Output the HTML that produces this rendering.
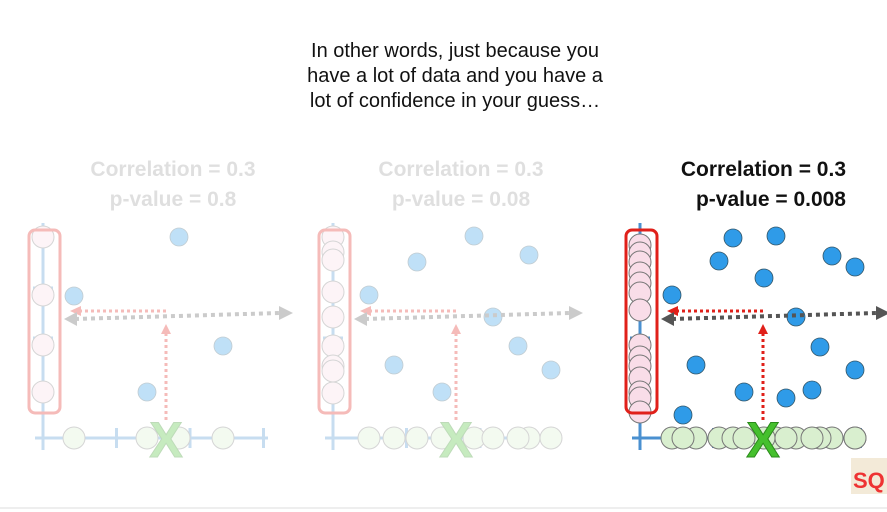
<!DOCTYPE html>
<html><head><meta charset="utf-8">
<style>
html,body{margin:0;padding:0;background:#fff;}
svg{display:block;font-family:"Liberation Sans",sans-serif;}
</style></head>
<body>
<svg id="chart" width="887" height="512" viewBox="0 0 887 512" xmlns="http://www.w3.org/2000/svg">
  <rect width="887" height="512" fill="#fff"/>
  <line x1="0" y1="508" x2="887" y2="508" stroke="#eee" stroke-width="2"/>
  <g font-size="20" fill="#111" text-anchor="middle">
    <text x="455" y="57">In other words, just because you</text>
    <text x="455" y="82">have a lot of data and you have a</text>
    <text x="455" y="107">lot of confidence in your guess…</text>
  </g>
  <g id="panels"></g>
  <g>
    <rect x="851" y="458" width="36" height="36" fill="#f3ead8"/>
    <text x="853" y="488" font-size="22" font-weight="bold" fill="#e33">SQ</text>
  </g>
</svg>
<script>
// Panel data (values in axis units relative to each panel's origin)
const panelLabels = ["Correlation = 0.3","Correlation = 0.3","Correlation = 0.3"];
const pvalueLabels = ["p-value = 0.8","p-value = 0.08","p-value = 0.008"];
const p1X = [136,31,180,104];
const p1Y = [201,142,92,46];
const p2X = [141,84,196,36,160,185,61,218,109];
const p2Y = [202,176,183,143,121,92,73,68,46];
const p3X = [32,79,93,136,124,192,215,156,180,215,56,104,146,172,43];
const p3Y = [143,177,200,202,160,182,171,121,91,68,73,46,40,48,23];
const yMarks1 = [201,143,93,46];
const yMarks2 = [201,186,178,146,121,92,72,67,45];
const yMarks3 = [193,185,176,165,155,145,128,93,81,72,60,46,40,26];
const guessX = 123, guessY = 127;

const panels = [
  {ox:43, oy:438, xs:p1X, ys:p1Y, ym:yMarks1, op:0.3, lx:173, la:"middle"},
  {ox:333, oy:438, xs:p2X, ys:p2Y, ym:yMarks2, op:0.3, lx:461, la:"middle"},
  {ox:640, oy:438, xs:p3X, ys:p3Y, ym:yMarks3, op:1, lx:846, la:"end"}
];
const NS="http://www.w3.org/2000/svg";
function mk(parent, tag, attrs){const e=document.createElementNS(NS,tag);for(const k in attrs)e.setAttribute(k,attrs[k]);parent.appendChild(e);return e;}
const root=document.getElementById('panels');
panels.forEach((p,i)=>{
  const sx=v=>p.ox+v, sy=v=>p.oy-v;
  const g=mk(root,'g',{opacity:p.op});
  
  
  const col = i===2 ? '#111' : '#999';
  const t1=mk(g,'text',{x:p.lx,y:176,'font-size':21,'font-weight':'bold','text-anchor':p.la,fill:col});
  t1.textContent=panelLabels[i];
  
  
  const t2=mk(g,'text',{x:p.lx,y:206,'font-size':21,'font-weight':'bold','text-anchor':p.la,fill:col});
  t2.textContent=pvalueLabels[i];
  
  
  const ax=mk(g,'g',{stroke:'#4a90d0','stroke-width':3});
  
  
  mk(ax,'line',{x1:sx(0),y1:sy(-12),x2:sx(0),y2:sy(215)});
  mk(ax,'line',{x1:sx(-8),y1:sy(0),x2:sx(225),y2:sy(0)});
  [50,100,150].forEach(t=>{mk(ax,'line',{x1:sx(-10),y1:sy(t),x2:sx(10),y2:sy(t)});mk(ax,'line',{x1:sx(t*1.47),y1:sy(-10),x2:sx(t*1.47),y2:sy(10)});});
  p.ym.forEach(v=>{const c=mk(g,'circle',{cx:sx(0),cy:sy(v),r:11,fill:'#f9dde8',stroke:'#777','stroke-width':1});
    });
  p.xs.forEach(v=>{const c=mk(g,'circle',{cx:sx(v),cy:sy(0),r:11,fill:'#d9efcf',stroke:'#777','stroke-width':1});
    });
  const b=mk(g,'rect',{x:sx(-14),y:sy(208),width:31,height:183,rx:6,fill:'none',stroke:'#e0201a','stroke-width':3});
  
  p.xs.forEach((v,j)=>{const c=mk(g,'circle',{cx:sx(v),cy:sy(p.ys[j]),r:9,fill:'#2f9be8',stroke:'#356','stroke-width':0.8});
    });
  mk(g,'line',{x1:sx(guessX),y1:sy(18),x2:sx(guessX),y2:sy(106),stroke:'#e0201a','stroke-width':3,'stroke-dasharray':'3 3'});
  mk(g,'path',{d:`M${sx(guessX)-5} ${sy(104)} L${sx(guessX)} ${sy(114)} L${sx(guessX)+5} ${sy(104)} Z`,fill:'#e0201a'});
  mk(g,'line',{x1:sx(guessX),y1:sy(guessY),x2:sx(36),y2:sy(guessY),stroke:'#e0201a','stroke-width':3,'stroke-dasharray':'3 3'});
  mk(g,'path',{d:`M${sx(38)} ${sy(guessY)-5} L${sx(27)} ${sy(guessY)} L${sx(38)} ${sy(guessY)+5} Z`,fill:'#e0201a'});
  mk(g,'line',{x1:sx(32),y1:sy(119),x2:sx(236),y2:sy(125),stroke:'#555','stroke-width':4,'stroke-dasharray':'4 4'});
  mk(g,'path',{d:`M${sx(34)} ${sy(126)} L${sx(21)} ${sy(119)} L${sx(34)} ${sy(112)} Z`,fill:'#555'});
  mk(g,'path',{d:`M${sx(236)} ${sy(132)} L${sx(250)} ${sy(125)} L${sx(236)} ${sy(118)} Z`,fill:'#555'});
  const x=mk(g,'text',{x:sx(guessX),y:sy(-19),'font-size':50,'font-weight':'bold','text-anchor':'middle',fill:'#45c02d',stroke:'#2a8a1a','stroke-width':1});
  x.textContent='X';
  
});
</script>
</body></html>
